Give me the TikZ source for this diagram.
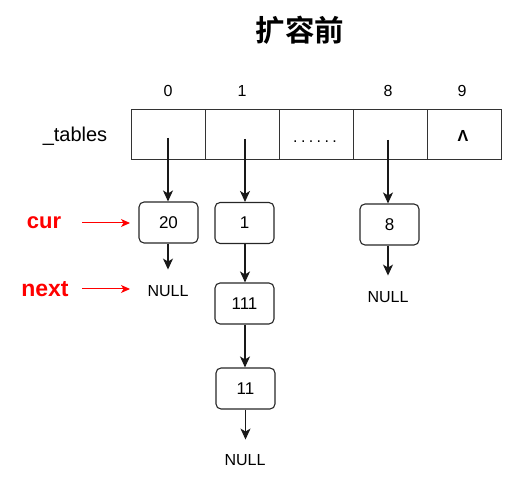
\documentclass[tikz,border=0pt]{standalone}
\usepackage{fontspec}
\setmainfont{Liberation Sans}
\newfontfamily\cjkbold[BoldFont={Noto Sans CJK SC Bold}]{Noto Sans CJK SC}
\usetikzlibrary{arrows.meta}
\begin{document}
\begin{tikzpicture}[x=1pt,y=-1pt,
  cell/.style={draw=black!80,line width=1.1pt,minimum width=74pt,minimum height=50pt,inner sep=0pt,anchor=north west},
  lnode/.style={draw=black!85,line width=1.1pt,rounded corners=5pt,minimum width=59pt,minimum height=41pt,inner sep=0pt,font=\fontsize{17}{20}\selectfont},
  txt/.style={font=\fontsize{16}{19}\selectfont,inner sep=0pt,anchor=base},
  arr/.style={-{Stealth[length=11pt,width=10pt,inset=3pt]},line width=1.2pt,black!90},
  rarr/.style={-{Stealth[length=9pt,width=8pt,inset=2.5pt]},line width=1pt,red},
  redlab/.style={text=red,inner sep=0pt,anchor=base}]
\useasboundingbox (0,0) rectangle (531,478);
\node[font=\cjkbold\bfseries\fontsize{29.5}{32}\selectfont,inner sep=0pt] (title) at (300,30) {扩容前};
% index labels
\node[txt] (i0) at (168,97) {0};
\node[txt] (i1) at (242,97) {1};
\node[txt] (i8) at (388,97) {8};
\node[txt] (i9) at (462,97) {9};
\node[font=\fontsize{20}{24}\selectfont,inner sep=0pt,anchor=base] (tab) at (75,142) {\_tables};
% table cells
\node[cell] (c0) at (131,109) {};
\node[cell] (c1) at (205,109) {};
\node[cell] (c2) at (279,109) {};
\node[cell] (c8) at (353,109) {};
\node[cell] (c9) at (427,109) {};
\node[font=\fontsize{16}{19}\selectfont,inner sep=0pt,anchor=base] (dots) at (315,143) {.\kern3.4pt.\kern3.4pt.\kern3.4pt.\kern3.4pt.\kern3.4pt.};
\node[font=\bfseries\fontsize{16}{19}\selectfont,inner sep=0pt] (wedge) at (463,136) {Λ};
% inner start points
\coordinate (s0) at (168,138);
\coordinate (s1) at (245,139);
\coordinate (s8) at (388,140);
% list nodes
\node[lnode] (n20) at (168.5,222.5) {20};
\node[lnode] (n1) at (244.5,223) {1};
\node[lnode] (n8) at (389.5,224.5) {8};
\node[lnode] (n111) at (244.5,303.5) {111};
\node[lnode] (n11) at (245.5,388.5) {11};
% NULLs
\node[txt] (null0) at (168,297) {NULL};
\node[txt] (null8) at (388,303) {NULL};
\node[txt] (null11) at (245,466) {NULL};
% arrows
\draw[arr] (s0) -- (n20.north -| s0);
\draw[arr] (s1) -- (n1.north -| s1);
\draw[arr] (s8) -- (n8.north -| s8);
\draw[arr] (n20.south -| s0) -- ++(0,26);
\draw[arr] (n1.south -| s1) -- (n111.north -| s1);
\draw[arr] (n111.south -| s1) -- (n11.north -| s1);
\draw[arr] (n11.south) -- ++(0,30);
\draw[arr] (n8.south -| s8) -- ++(0,30);
% red labels
\node[redlab,font=\bfseries\fontsize{22}{26}\selectfont] (cur) at (44,229) {cur};
\node[redlab,font=\bfseries\fontsize{23}{27}\selectfont] (next) at (45,297) {next};
\coordinate (curS) at (82,223);
\coordinate (curE) at (130,223);
\coordinate (nextS) at (82,289);
\coordinate (nextE) at (130,289);
\draw[rarr] (curS) -- (curE);
\draw[rarr] (nextS) -- (nextE);
\end{tikzpicture}
\end{document}
